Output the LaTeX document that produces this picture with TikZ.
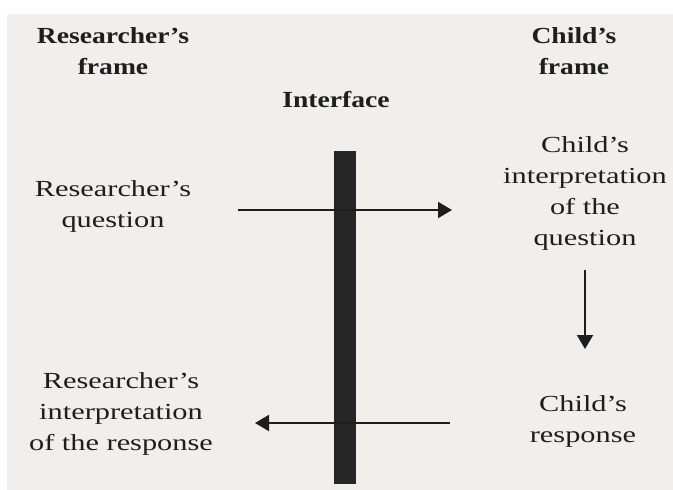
\documentclass[tikz,border=0pt]{standalone}
\usepackage{fontspec}
\usetikzlibrary{arrows.meta}

% the printed figure uses wide book type
\newfontfamily\bodyfont{Liberation Serif}[FakeStretch=1.32]
\newfontfamily\headfont{Liberation Serif}[FakeStretch=1.2]

\definecolor{paper}{RGB}{240,239,235}
\definecolor{ink}{RGB}{30,30,30}
\definecolor{barcol}{RGB}{38,38,38}

% multi-line labels are placed by the baseline of their last line
\tikzset{
  lbl/.style={align=center, anchor=base, inner sep=0pt, text=ink,
              font=\bodyfont\fontsize{23}{31}\selectfont},
  head/.style={lbl, font=\headfont\bfseries\fontsize{23}{31}\selectfont},
  arr/.style={draw=ink, line width=2pt,
              -{Triangle[length=14pt,width=16pt]}},
}

\begin{document}
\begin{tikzpicture}[x=1pt,y=-1pt]
  \useasboundingbox (0,0) rectangle (673,490);
  \fill[white] (0,0) rectangle (673,490);
  \fill[paper] (7,14) rectangle (673,490);

  % column headings
  \node[head] (rf) at (113,74) {Researcher’s\\frame};
  \node[head] (cf) at (574,74) {Child’s\\frame};
  \node[head] (itf) at (336,107) {Interface};

  % the interface bar
  \node[fill=barcol, minimum width=22pt, minimum height=333pt, inner sep=0pt,
        anchor=north] (bar) at (345,151) {};

  % labels on both sides
  \node[lbl] (rq) at (113,227) {Researcher’s\\question};
  \node[lbl] (cq) at (585,245) {Child’s\\interpretation\\of the\\question};
  \node[lbl] (rr) at (121,450) {Researcher’s\\interpretation\\of the response};
  \node[lbl] (cr) at (583,442) {Child’s\\response};

  % arrow end points
  \coordinate (qa) at (238,210);
  \coordinate (qb) at (452,210);
  \coordinate (da) at (585,270);
  \coordinate (db) at (585,349);
  \coordinate (ra) at (450,423);
  \coordinate (rb) at (255,423);

  \draw[arr] (qa) -- (qb);
  \draw[arr] (da) -- (db);
  \draw[arr] (ra) -- (rb);
\end{tikzpicture}
\end{document}
